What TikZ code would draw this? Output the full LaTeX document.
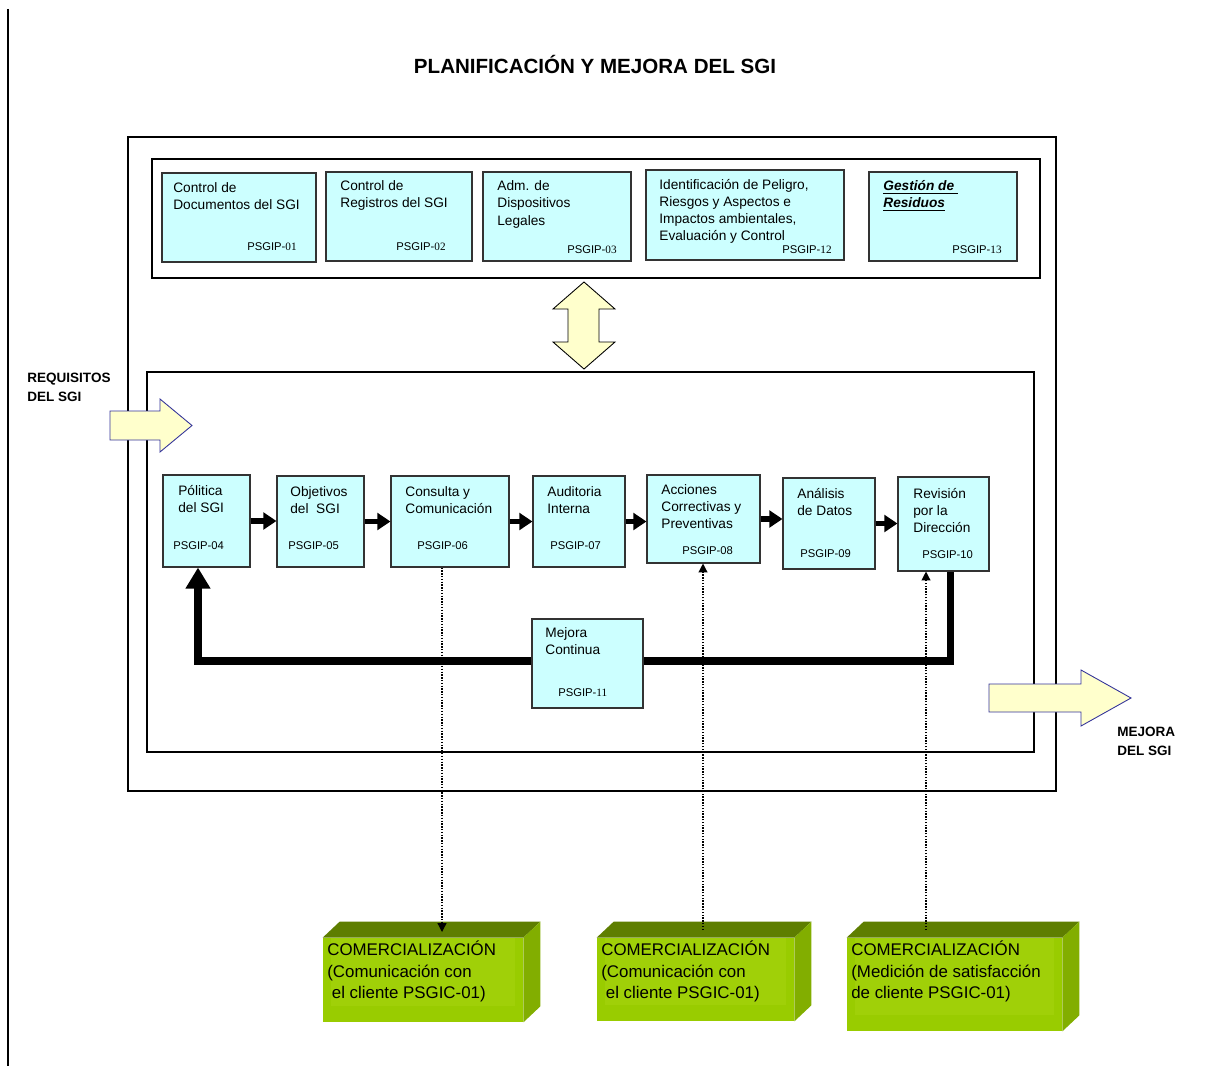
\documentclass[tikz,border=0pt]{standalone}
\usepackage{fontspec}
\setmainfont{Liberation Sans}
\newfontfamily\tnr{Liberation Serif}
\usetikzlibrary{arrows.meta,fit,calc}
\definecolor{cian}{HTML}{CCFFFF}
\definecolor{crema}{HTML}{FFFFCC}
\definecolor{azul}{HTML}{333399}
\definecolor{verde}{HTML}{99CC00}
\definecolor{verdeluz}{HTML}{A0D008}
\definecolor{verdetapa}{HTML}{5E7E00}
\definecolor{verdelado}{HTML}{82AE00}
\tikzset{
  proc/.style={draw=black!80, fill=cian, line width=0.6pt, inner sep=0pt},
  txt/.style={anchor=north west, align=left, inner sep=0pt, font=\fontsize{7.8}{10}\selectfont},
  code/.style={anchor=west, inner sep=0pt, font=\fontsize{6.4}{8}\selectfont},
  flow/.style={line width=3pt, -{Triangle[length=7.5pt,width=9.5pt]}},
  bucle/.style={line width=4pt, line join=miter},
  punteado/.style={line width=0.7pt, dash pattern=on 0.8pt off 0.8pt, -{Triangle[length=5pt,width=5pt]}},
  marco/.style={line width=1.2pt},
  flecha/.style={fill=crema, draw=azul, line width=0.5pt},
  etiq/.style={anchor=north west, align=left, inner sep=0pt, font=\bfseries\fontsize{7.7}{10.4}\selectfont},
  caja/.style={fill=verde, inner sep=0pt},
  com/.style={anchor=north west, align=left, inner sep=0pt, font=\fontsize{9.6}{12}\selectfont},
}
\begin{document}
\begin{tikzpicture}[x=0.02cm, y=-0.02cm]
  \useasboundingbox (0,0) rectangle (1213,1068);

  \draw[marco] (8,9) -- (8,1066);

  \node[font=\bfseries\fontsize{11.7}{14}\selectfont, anchor=base] (titulo) at (595,73) {PLANIFICACIÓN Y MEJORA DEL SGI};

  % marcos
  \draw[marco] (128,137) rectangle (1056,791);
  \draw[marco] (152,159) rectangle (1040,278);
  \draw[marco] (147,372) rectangle (1034,752);

  % procedimientos de soporte
  \node[proc, fit={(162,173)(316,262)}] (doc) {};
  \node[proc, fit={(326,172)(472,261)}] (reg) {};
  \node[proc, fit={(483,172)(631,261)}] (leg) {};
  \node[proc, fit={(646,170)(844,260)}] (pel) {};
  \node[proc, fit={(869,172)(1017,261)}] (res) {};

  \node[txt] (docT) at (173,182) {Control de\\Documentos del SGI};
  \node[txt] (regT) at (340,180) {Control de\\Registros del SGI};
  \node[txt] (legT) at (497,180) {Adm. de\\Dispositivos\\Legales};
  \node[txt, font=\fontsize{7.8}{9.6}\selectfont] (pelT) at (659,179) {Identificación de Peligro,\\Riesgos y Aspectos e\\Impactos ambientales,\\Evaluación y Control};
  \node[txt, font=\bfseries\itshape\fontsize{7.8}{10}\selectfont] (resT) at (883,180) {\underline{Gestión de\ }\\\underline{Residuos}};

  \node[code] (docC) at (247,247) {PSGIP-{\tnr 01}};
  \node[code] (regC) at (396,247) {PSGIP-{\tnr 02}};
  \node[code] (legC) at (567,250) {PSGIP-{\tnr 03}};
  \node[code] (pelC) at (782,250) {PSGIP-{\tnr 12}};
  \node[code] (resC) at (952,250) {PSGIP-{\tnr 13}};

  % ciclo del SGI
  \node[proc, fit={(163,475)(250,567)}] (pol) {};
  \node[proc, fit={(277,476)(364,567)}] (obj) {};
  \node[proc, fit={(391,476)(509,567)}] (cons) {};
  \node[proc, fit={(533,476)(625,567)}] (aud) {};
  \node[proc, fit={(647,475)(760,563)}] (acc) {};
  \node[proc, fit={(783,478)(875,569)}] (ana) {};
  \node[proc, fit={(898,477)(989,571)}] (rev) {};
  \node[proc, fit={(532,619)(643,708)}] (mej) {};

  \node[txt, font=\fontsize{7.8}{9.8}\selectfont] (polT) at (178,485) {Pólitica\\del SGI};
  \node[txt, font=\fontsize{7.8}{9.8}\selectfont] (objT) at (290,486) {Objetivos\\del\ \ SGI};
  \node[txt, font=\fontsize{7.8}{9.8}\selectfont] (consT) at (405,486) {Consulta y\\Comunicación};
  \node[txt, font=\fontsize{7.8}{9.8}\selectfont] (audT) at (547,486) {Auditoria\\Interna};
  \node[txt, font=\fontsize{7.8}{9.8}\selectfont] (accT) at (661,484) {Acciones\\Correctivas y\\Preventivas};
  \node[txt, font=\fontsize{7.8}{9.8}\selectfont] (anaT) at (797,488) {Análisis\\de Datos};
  \node[txt, font=\fontsize{7.8}{9.8}\selectfont] (revT) at (913,488) {Revisión\\por la\\Dirección};
  \node[txt, font=\fontsize{7.8}{9.8}\selectfont] (mejT) at (545,627) {Mejora\\Continua};

  \node[code] (polC) at (173,546) {PSGIP-04};
  \node[code] (objC) at (288,546) {PSGIP-05};
  \node[code] (consC) at (417,546) {PSGIP-06};
  \node[code] (audC) at (550,546) {PSGIP-07};
  \node[code] (accC) at (682,551) {PSGIP-08};
  \node[code] (anaC) at (800,554) {PSGIP-09};
  \node[code] (revC) at (922,555) {PSGIP-10};
  \node[code] (mejC) at (558,693) {PSGIP-{\tnr 11}};

  \draw[flow] (pol.east) -- (pol.east -| obj.west);
  \draw[flow] (obj.east) -- (obj.east -| cons.west);
  \draw[flow] (cons.east) -- (cons.east -| aud.west);
  \draw[flow] (aud.east) -- (aud.east -| acc.west);
  \draw[flow] (acc.east) -- (acc.east -| ana.west);
  \draw[flow] (ana.east) -- (ana.east -| rev.west);

  % mejora continua
  \coordinate (lpI) at (198,661);
  \coordinate (lpD) at (950,661);
  \draw[bucle, -{Triangle[length=12pt,width=13.5pt]}] (mej.west |- lpI) -- (lpI) -- (pol.south -| lpI);
  \draw[bucle] (mej.east |- lpD) -- (lpD) -- (rev.south -| lpD);

  % comercializacion
  \node[caja, fit={(323,938)(523,1022)}] (com1) {};
  \node[caja, fit={(597,938)(794,1021)}] (com2) {};
  \node[caja, fit={(847,938)(1062,1031)}] (com3) {};
  \foreach \n in {com1,com2,com3} {
    \fill[verdeluz] ($(\n.north west)+(8,0)$) rectangle ($(\n.south east)+(-8,-16)$);
    \fill[verdetapa] (\n.north west) -- ++(17,-16) -- ($(\n.north east)+(17,-16)$) -- (\n.north east) -- cycle;
    \fill[verdelado] (\n.north east) -- ++(17,-16) -- ($(\n.south east)+(17,-16)$) -- (\n.south east) -- cycle;
  }
  \node[com] (com1T) at (327,941) {COMERCIALIZACIÓN\\(Comunicación con\\\hspace{2.6pt}el cliente PSGIC-01)};
  \node[com] (com2T) at (601,941) {COMERCIALIZACIÓN\\(Comunicación con\\\hspace{2.6pt}el cliente PSGIC-01)};
  \node[com] (com3T) at (851,941) {COMERCIALIZACIÓN\\(Medición de satisfacción\\de cliente PSGIC-01)};

  \coordinate (k1) at (442,932);
  \coordinate (k2) at (703,930);
  \coordinate (k3) at (926,930);
  \draw[punteado] (cons.south -| k1) -- (k1);
  \draw[punteado] (k2) -- (acc.south -| k2);
  \draw[punteado] (k3) -- (rev.south -| k3);

  % flechas de bloque
  \draw[flecha] (110,411) -- (160,411) -- (160,399) -- (192,425.5) -- (160,452) -- (160,440) -- (110,440) -- cycle;
  \draw[flecha] (989,684) -- (1081,684) -- (1081,670) -- (1131,698) -- (1081,726) -- (1081,712) -- (989,712) -- cycle;
  \draw[flecha, draw=black] (584,282) -- (615,309) -- (599,309) -- (599,342) -- (615,342) -- (584,369) -- (553,342) -- (568,342) -- (568,309) -- (553,309) -- cycle;

  \node[etiq] (req) at (27,373) {REQUISITOS\\DEL SGI};
  \node[etiq] (mejSGI) at (1117,727) {MEJORA\\DEL SGI};
\end{tikzpicture}
\end{document}
